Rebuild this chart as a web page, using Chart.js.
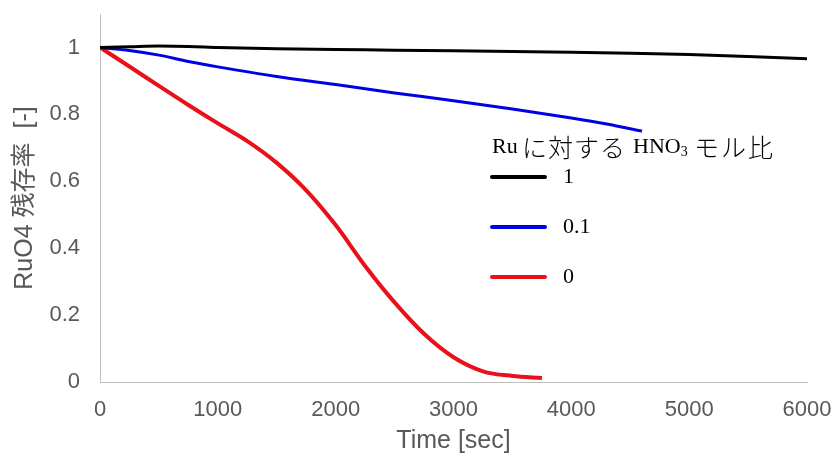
<!DOCTYPE html>
<html lang="ja">
<head>
  <meta charset="UTF-8">
  <title>RuO4 残存率</title>
  <script src="https://cdn.jsdelivr.net/npm/chart.js"></script>
  <style>
    body {
      margin: 0;
      background: #fff;
    }
    #wrap {
      width: 840px;
      height: 463px;
    }
  </style>
</head>
<body>
  <div id="wrap"><canvas id="myChart" width="840" height="463"></canvas></div>

  <script>
    // measured series: time [sec] and remaining fraction
    const t1 = [0, 250, 500, 750, 1000, 1500, 2000, 2500, 3000, 3500, 4000, 4500, 5000, 5500, 6000];
    const v1 = [1, 1.002, 1.004, 1.003, 1.0, 0.996, 0.994, 0.992, 0.99, 0.988, 0.986, 0.983, 0.979, 0.973, 0.966];

    const t01 = [0, 250, 500, 750, 1000, 1500, 2000, 2500, 3000, 3500, 4000, 4300, 4600];
    const v01 = [1, 0.991, 0.977, 0.958, 0.942, 0.913, 0.889, 0.864, 0.841, 0.816, 0.789, 0.771, 0.75];

    const t0 = [0, 250, 500, 750, 1000, 1250, 1500, 1750, 2000, 2250, 2500, 2750, 3000, 3250, 3500, 3750];
    const v0 = [1, 0.943, 0.885, 0.828, 0.773, 0.72, 0.655, 0.573, 0.469, 0.347, 0.238, 0.144, 0.074, 0.032, 0.018, 0.012];

    const seriesNames = ['1', '0.1', '0'];
    const seriesColors = ['#000000', '#0000e6', '#e8101a'];
    const yTicks = [0, 0.2, 0.4, 0.6, 0.8, 1];
    const xTicks = [0, 1000, 2000, 3000, 4000, 5000, 6000];

    const gray = '#595959';
    const sans = '"Liberation Sans", Arial, sans-serif';

    function pts(ts, vs) {
      return ts.map((t, i) => ({ x: t, y: vs[i] }));
    }

    // legend box inside the plot; title mixes serif latin, CJK and a subscript
    const legendBox = {
      id: 'legendBox',
      afterDraw(chart) {
        const ctx = chart.ctx;
        const serif = '22px "Liberation Serif", serif';
        const cjk = '300 25px "Noto Sans CJK JP", sans-serif';
        const y = 147;
        ctx.save();
        ctx.fillStyle = '#000';
        ctx.textBaseline = 'middle';

        const runs = [
          { text: 'Ru', font: serif, x: 492, dy: 0, sp: '0px' },
          { text: 'に対する', font: cjk, x: 522, dy: 0, sp: '1px' },
          { text: 'HNO', font: serif, x: 633, dy: 0, sp: '0px' },
          { text: '3', font: '14px "Liberation Serif", serif', x: 0, dy: 5, sp: '0px' },
          { text: 'モル比', font: cjk, x: 694, dy: 0, sp: '2px' }
        ];
        let last = 0;
        runs.forEach(r => {
          ctx.font = r.font;
          ctx.letterSpacing = r.sp;
          const x = r.x || last;
          ctx.fillText(r.text, x, y + r.dy);
          last = x + ctx.measureText(r.text).width;
        });
        ctx.letterSpacing = '0px';

        chart.data.datasets.forEach((ds, i) => {
          const ly = 177 + i * 50;
          ctx.strokeStyle = ds.borderColor;
          ctx.lineWidth = 4;
          ctx.lineCap = 'round';
          ctx.beginPath();
          ctx.moveTo(492, ly);
          ctx.lineTo(545, ly);
          ctx.stroke();
          ctx.font = serif;
          ctx.fillText(ds.label, 563, ly);
        });
        ctx.restore();
      }
    };

    const ctx = document.getElementById('myChart').getContext('2d');

    new Chart(ctx, {
      type: 'line',
      data: {
        datasets: [
          { label: seriesNames[0], data: pts(t1, v1), borderColor: seriesColors[0], borderWidth: 3 },
          { label: seriesNames[1], data: pts(t01, v01), borderColor: seriesColors[1], borderWidth: 3 },
          { label: seriesNames[2], data: pts(t0, v0), borderColor: seriesColors[2], borderWidth: 4 }
        ]
      },
      options: {
        responsive: false,
        animation: false,
        elements: {
          point: { radius: 0 },
          line: { tension: 0.4, cubicInterpolationMode: 'monotone', fill: false }
        },
        layout: { padding: { top: 14, right: 33, left: 0, bottom: 0 } },
        plugins: {
          legend: { display: false },
          tooltip: { enabled: false }
        },
        scales: {
          x: {
            type: 'linear',
            min: 0,
            max: 6000,
            grid: { display: false, drawTicks: false },
            border: { display: true, color: '#bfbfbf', width: 1 },
            afterBuildTicks: s => { s.ticks = xTicks.map(v => ({ value: v })); },
            afterFit: s => {
              s.height = 81;
              s.paddingLeft = 0;
              s.paddingRight = 0;
            },
            ticks: {
              color: gray,
              padding: 15,
              maxRotation: 0,
              font: { family: sans, size: 22 },
              callback: v => String(v)
            },
            title: {
              display: true,
              text: 'Time [sec]',
              color: gray,
              padding: { top: 0, bottom: 7 },
              font: { family: sans, size: 25 }
            }
          },
          y: {
            min: 0,
            max: 1.1,
            grid: { display: false, drawTicks: false },
            border: { display: true, color: '#bfbfbf', width: 1 },
            afterBuildTicks: s => { s.ticks = yTicks.map(v => ({ value: v })); },
            afterFit: s => {
              s.width = 100;
              s.paddingTop = 0;
              s.paddingBottom = 0;
            },
            ticks: {
              color: gray,
              padding: 20,
              font: { family: sans, size: 22 },
              callback: v => String(+v.toFixed(1))
            },
            title: {
              display: true,
              text: 'RuO4 残存率  [-]',
              color: gray,
              padding: { top: 10, bottom: 0 },
              font: { family: '"Liberation Sans", "Noto Sans CJK JP", sans-serif', size: 25 }
            }
          }
        }
      },
      plugins: [legendBox]
    });
  </script>
</body>
</html>
